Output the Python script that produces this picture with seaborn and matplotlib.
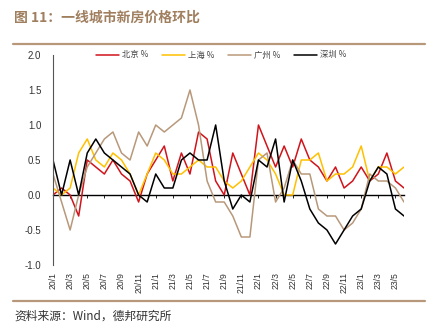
import matplotlib
matplotlib.use("Agg")
import matplotlib.pyplot as plt
from matplotlib.lines import Line2D
import seaborn as sns
import pandas as pd
import numpy as np

months = [f"{y}/{m}" for y in range(20, 24) for m in range(1, 13)][:42]
beijing = [0.0, 0.1, 0.0, -0.3, 0.5, 0.4, 0.3, 0.5, 0.3, 0.2, -0.1, 0.3, 0.5, 0.7,
           0.2, 0.6, 0.3, 0.9, 0.8, 0.2, 0.0, 0.6, 0.3, 0.0, 1.0, 0.7, 0.4, 0.7,
           0.4, 0.8, 0.5, 0.4, 0.2, 0.4, 0.1, 0.2, 0.4, 0.2, 0.3, 0.6, 0.2, 0.1]
shanghai = [0.1, 0.0, 0.1, 0.6, 0.8, 0.5, 0.4, 0.6, 0.5, 0.3, 0.0, 0.3, 0.6, 0.5,
            0.3, 0.3, 0.4, 0.5, 0.4, 0.4, 0.2, 0.1, 0.2, 0.4, 0.6, 0.5, 0.3, 0.0,
            0.0, 0.5, 0.5, 0.6, 0.2, 0.3, 0.3, 0.4, 0.7, 0.2, 0.4, 0.4, 0.3, 0.4]
guangzhou = [0.3, -0.1, -0.5, 0.0, 0.4, 0.6, 0.8, 0.9, 0.6, 0.5, 0.9, 0.7, 1.0, 0.9,
             1.0, 1.1, 1.5, 1.0, 0.2, -0.1, -0.1, -0.3, -0.6, -0.6, 0.5, 0.6, -0.1, 0.1,
             0.5, 0.3, 0.3, -0.2, -0.3, -0.3, -0.5, -0.4, -0.2, 0.3, 0.2, 0.2, 0.1, -0.1]
shenzhen = [0.5, 0.0, 0.5, 0.0, 0.6, 0.8, 0.6, 0.5, 0.4, 0.3, 0.0, -0.1, 0.3, 0.1,
            0.1, 0.5, 0.6, 0.5, 0.5, 1.0, 0.2, -0.2, 0.0, -0.1, 0.5, 0.4, 0.8, -0.1,
            0.5, 0.2, -0.2, -0.4, -0.5, -0.7, -0.5, -0.3, -0.2, 0.2, 0.4, 0.3, -0.2, -0.3]
series_names = ["北京 %", "上海 %", "广州 %", "深圳 %"]
colors = ["#d0141b", "#ffc000", "#b8987a", "#000000"]
yticks = [-1.0, -0.5, 0.0, 0.5, 1.0, 1.5, 2.0]

frames = []
for name, vals in zip(series_names, [beijing, shanghai, guangzhou, shenzhen]):
    frames.append(pd.DataFrame({"idx": np.arange(len(vals)), "month": months[:len(vals)],
                                "value": vals, "series": name}))
df = pd.concat(frames, ignore_index=True)

sns.set_style("white")
plt.rcParams["font.family"] = ["Noto Sans CJK SC", "DejaVu Sans"]

W, H = 441, 328
fig = plt.figure(figsize=(W / 100, H / 100), dpi=100)
ax = fig.add_axes([53 / W, 1 - 265 / H, (404 - 53) / W, (265 - 55) / H])

sns.lineplot(data=df, x="idx", y="value", hue="series", hue_order=series_names,
             palette=colors, linewidth=1.1, ax=ax, legend=False, sort=False)

ax.set_xlim(0, len(months) - 1)
ax.set_ylim(-1.0, 2.0)
ax.set_yticks(yticks)
ax.set_yticklabels([f"{v:.1f}" for v in yticks], fontsize=7, color="#333333",
                   family="Liberation Sans")
ax.tick_params(axis="y", length=2.5, width=0.8, color="#555555", pad=6)
ax.set_xticks(range(0, len(months), 2))
ax.set_xticklabels(months[::2], rotation=90, fontsize=6.2, color="#333333",
                   family="Liberation Sans")
ax.tick_params(axis="x", length=0, pad=5)
for s in ["top", "right", "bottom"]:
    ax.spines[s].set_visible(False)
ax.spines["left"].set_color("#555555")
ax.spines["left"].set_linewidth(0.8)
ax.set_xlabel("")
ax.set_ylabel("")

# zero axis with tick marks
zero_frac = (0 - (-1.0)) / 3.0
sec = ax.secondary_xaxis(zero_frac)
sec.set_xticks(range(0, len(months), 2))
sec.set_xticklabels([])
sec.tick_params(axis="x", length=2, width=0.6, color="#000000", direction="out")
sec.spines["bottom"].set_color("#000000")
sec.spines["bottom"].set_linewidth(1.0)
for s in ["top", "left", "right"]:
    sec.spines[s].set_visible(False)
sec.xaxis.set_ticks_position("bottom")

handles = [Line2D([], [], color=c, lw=1.1) for c in colors]
fig.legend(handles, series_names, loc="center", bbox_to_anchor=(221 / W, 1 - 55 / H),
           ncol=4, frameon=False, fontsize=6, handlelength=2.75, handletextpad=0.4,
           columnspacing=1.6, labelcolor="#444444")

title_color = "#a07f5f"
fig.text(14 / W, 1 - 18 / H, "图 11：一线城市新房价格环比", fontsize=10, fontweight="bold",
         color=title_color, va="center", ha="left")
fig.add_artist(Line2D([13 / W, 425 / W], [1 - 44 / H, 1 - 44 / H], color="#b8987a", lw=1.6))
fig.add_artist(Line2D([13 / W, 425 / W], [1 - 301 / H, 1 - 301 / H], color="#b8987a", lw=1.6))
fig.text(14 / W, 1 - 316 / H, "资料来源：Wind，德邦研究所", fontsize=8.5, color="#333333",
         va="center", ha="left")

fig.savefig("out.png", dpi=100)
